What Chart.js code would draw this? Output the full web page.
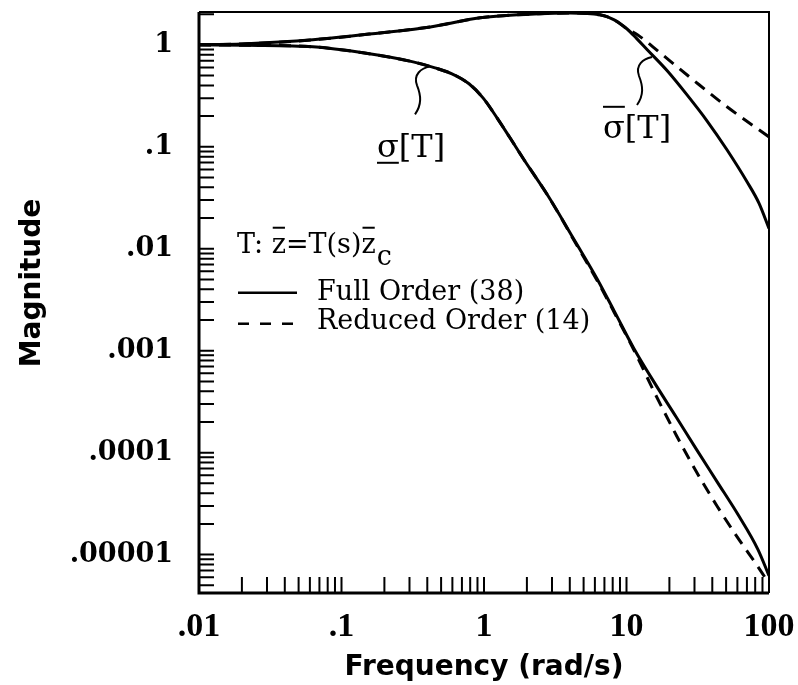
<!DOCTYPE html>
<html>
<head>
<meta charset="utf-8">
<script src="https://cdn.jsdelivr.net/npm/chart.js@4.4.1/dist/chart.umd.min.js"></script>
<style>
  html, body { margin: 0; padding: 0; background: #fff; }
  canvas { display: block; }
</style>
</head>
<body>
<canvas id="bode" width="798" height="685"></canvas>
<script>
var xTickValues = [0.01, 0.1, 1, 10, 100];
var xTickLabels = ['.01', '.1', '1', '10', '100'];
var yTickValues = [0.00001, 0.0001, 0.001, 0.01, 0.1, 1];
var yTickLabels = ['.00001', '.0001', '.001', '.01', '.1', '1'];

// largest singular value, full order
var fullMaxFreq = [0.01, 0.02, 0.063, 0.186, 0.42, 0.94, 2.47, 4.0, 6.5, 8.2, 10.1, 11.8, 13.93, 19.24, 26.6, 36.7, 50.7, 70.1, 85, 100];
var fullMaxMag  = [1.0, 1.02, 1.12, 1.31, 1.5, 1.84, 2.02, 2.05, 1.97, 1.76, 1.43, 1.15, 0.9, 0.56, 0.323, 0.18, 0.0935, 0.0454, 0.028, 0.0158];

// largest singular value, reduced order
var redMaxFreq = [0.01, 0.02, 0.063, 0.186, 0.42, 0.94, 2.47, 4.0, 6.5, 8.2, 10.1, 12, 17.2, 29.3, 50.7, 100];
var redMaxMag  = [1.0, 1.02, 1.12, 1.31, 1.5, 1.84, 2.02, 2.05, 1.97, 1.76, 1.43, 1.25, 0.835, 0.454, 0.247, 0.125];

// smallest singular value, full order
var fullMinFreq = [0.01, 0.0217, 0.063, 0.1416, 0.318, 0.453, 0.596, 0.785, 0.984, 1.234, 1.522, 1.909, 2.812, 4.42, 6.21, 8.17, 11.29, 15.85, 22.26, 30.73, 43.16, 60.6, 83.7, 100];
var fullMinMag  = [1.0, 0.99, 0.956, 0.835, 0.681, 0.595, 0.52, 0.415, 0.302, 0.1924, 0.1225, 0.0746, 0.0331, 0.01145, 0.00508, 0.00247, 0.001046, 0.000475, 0.000225, 0.0001094, 0.000052, 0.0000247, 0.0000112, 0.0000062];

// smallest singular value, reduced order
var redMinFreq = [0.01, 0.0217, 0.063, 0.1416, 0.318, 0.453, 0.596, 0.785, 0.984, 1.234, 1.522, 1.909, 2.812, 4.42, 6.21, 8.17, 11.29, 15.85, 22.26, 30.73, 43.16, 60.6, 83.7, 100];
var redMinMag  = [1.0, 0.99, 0.956, 0.835, 0.681, 0.595, 0.52, 0.415, 0.302, 0.1924, 0.1225, 0.0746, 0.0331, 0.0112, 0.0049, 0.0024, 0.00101, 0.00038, 0.00015, 0.000066, 0.00003, 0.0000145, 0.0000076, 0.0000052];

var seriesNames = ['Full Order (38)', 'Reduced Order (14)'];

function zip(fs, ms) {
  var pts = [];
  for (var i = 0; i < fs.length; i++) pts.push({x: fs[i], y: ms[i]});
  return pts;
}

function curve(label, fs, ms, dashed) {
  return {
    label: label,
    data: zip(fs, ms),
    showLine: true,
    borderColor: '#000',
    borderWidth: 3,
    borderDash: dashed ? [12, 8] : [],
    pointRadius: 0,
    fill: false,
    cubicInterpolationMode: 'monotone'
  };
}

// inward ticks and the box
var frameTicks = {
  id: 'frameTicks',
  afterDatasetsDraw: function (chart) {
    var ctx = chart.ctx, a = chart.chartArea;
    var xs = chart.scales.x, ys = chart.scales.y;
    var e, k, v, p;
    ctx.save();
    ctx.strokeStyle = '#000';
    ctx.lineWidth = 2;
    ctx.beginPath();
    for (e = -2; e <= 1; e++) {
      for (k = 1; k < 10; k++) {
        v = k * Math.pow(10, e);
        if (v < xs.min || v > xs.max) continue;
        p = xs.getPixelForValue(v);
        ctx.moveTo(p, a.bottom);
        ctx.lineTo(p, a.bottom - 16);
      }
    }
    for (e = -6; e <= 0; e++) {
      for (k = 1; k < 10; k++) {
        v = k * Math.pow(10, e);
        if (v < ys.min || v > ys.max) continue;
        p = ys.getPixelForValue(v);
        ctx.moveTo(a.left, p);
        ctx.lineTo(a.left + 15, p);
      }
    }
    ctx.stroke();

    ctx.lineWidth = 2;
    ctx.beginPath();
    ctx.moveTo(a.left, a.top);
    ctx.lineTo(a.right, a.top);
    ctx.lineTo(a.right, a.bottom);
    ctx.stroke();
    ctx.lineWidth = 3;
    ctx.beginPath();
    ctx.moveTo(a.left, a.top);
    ctx.lineTo(a.left, a.bottom);
    ctx.lineTo(a.right, a.bottom);
    ctx.stroke();
    ctx.restore();
  }
};

// sigma labels, legend block, y title
var notes = {
  id: 'notes',
  afterDraw: function (chart) {
    var ctx = chart.ctx, xs = chart.scales.x, ys = chart.scales.y;
    ctx.save();
    ctx.fillStyle = '#000';
    ctx.strokeStyle = '#000';

    ctx.save();
    ctx.translate(33, 283);
    ctx.rotate(-Math.PI / 2);
    ctx.font = 'bold 28px "DejaVu Sans"';
    ctx.textAlign = 'center';
    ctx.textBaseline = 'middle';
    ctx.fillText('Magnitude', 0, 0);
    ctx.restore();

    ctx.textAlign = 'left';
    ctx.textBaseline = 'alphabetic';

    function sigma(f, m, under) {
      var x = xs.getPixelForValue(f), y = ys.getPixelForValue(m);
      ctx.font = '32px "DejaVu Serif"';
      ctx.fillText('σ[T]', x, y);
      var w = ctx.measureText('σ').width;
      var by = under ? y + 6 : y - 31;
      ctx.lineWidth = 2;
      ctx.beginPath();
      ctx.moveTo(x, by);
      ctx.lineTo(x + w, by);
      ctx.stroke();
    }

    function leader(f, m) {
      var x = xs.getPixelForValue(f), y = ys.getPixelForValue(m);
      ctx.lineWidth = 2;
      ctx.beginPath();
      ctx.moveTo(x, y);
      ctx.bezierCurveTo(x - 9, y + 2, x - 17, y + 8, x - 13, y + 19);
      ctx.bezierCurveTo(x - 9, y + 29, x - 8, y + 38, x - 15, y + 48);
      ctx.stroke();
    }

    leader(0.418, 0.615);
    sigma(0.1774, 0.0798, true);
    leader(15.1, 0.76);
    sigma(6.84, 0.1225, false);

    // legend
    var lx = xs.getPixelForValue(0.01848), ly = ys.getPixelForValue(0.00914);
    var x = lx;
    ctx.font = '27px "DejaVu Serif"';
    function put(s) { ctx.fillText(s, x, ly); x += ctx.measureText(s).width; }
    function putBar(s) {
      var w = ctx.measureText(s).width;
      ctx.fillText(s, x, ly);
      ctx.lineWidth = 2;
      ctx.beginPath();
      ctx.moveTo(x + 1, ly - 25);
      ctx.lineTo(x + w - 1, ly - 25);
      ctx.stroke();
      x += w;
    }
    put('T: ');
    putBar('z');
    put('=T(s)');
    putBar('z');
    ctx.fillText('c', x + 1, ly + 12);

    var names = [chart.data.datasets[0].label, chart.data.datasets[2].label];
    ctx.lineWidth = 2.5;
    ctx.beginPath();
    ctx.moveTo(lx + 1, ly + 40);
    ctx.lineTo(lx + 60, ly + 40);
    ctx.stroke();
    ctx.setLineDash([11, 11]);
    ctx.beginPath();
    ctx.moveTo(lx + 1, ly + 71);
    ctx.lineTo(lx + 66, ly + 71);
    ctx.stroke();
    ctx.setLineDash([]);
    ctx.fillText(names[0], lx + 80, ly + 47);
    ctx.fillText(names[1], lx + 80, ly + 76);
    ctx.restore();
  }
};

function noPad(scale) {
  scale.paddingLeft = 0;
  scale.paddingRight = 0;
  scale.paddingTop = 0;
  scale.paddingBottom = 0;
}

var ctx = document.getElementById('bode');

new Chart(ctx, {
  type: 'scatter',
  data: {
    datasets: [
      curve(seriesNames[0], fullMaxFreq, fullMaxMag, false),
      curve(seriesNames[0], fullMinFreq, fullMinMag, false),
      curve(seriesNames[1], redMaxFreq, redMaxMag, true),
      curve(seriesNames[1], redMinFreq, redMinMag, true)
    ]
  },
  options: {
    responsive: false,
    animation: false,
    layout: { padding: { left: 0, right: 29, top: 12, bottom: 0 } },
    plugins: {
      legend: { display: false },
      tooltip: { enabled: false }
    },
    scales: {
      x: {
        type: 'logarithmic',
        min: 0.01,
        max: 100,
        grid: { display: false, drawTicks: false },
        border: { display: false },
        afterBuildTicks: function (scale) {
          scale.ticks = xTickValues.map(function (v) { return {value: v}; });
        },
        afterFit: function (scale) { scale.height = 92; noPad(scale); },
        ticks: {
          autoSkip: false,
          maxRotation: 0,
          padding: 14,
          color: '#000',
          font: { family: '"Liberation Serif"', weight: 'bold', size: 34 },
          callback: function (value, i) { return xTickLabels[i]; }
        },
        title: {
          display: true,
          text: 'Frequency (rad/s)',
          color: '#000',
          font: { family: '"DejaVu Sans"', weight: 'bold', size: 28 },
          padding: { top: 0, bottom: 0 }
        }
      },
      y: {
        type: 'logarithmic',
        min: 0.0000042,
        max: 2.1,
        grid: { display: false, drawTicks: false },
        border: { display: false },
        afterBuildTicks: function (scale) {
          scale.ticks = yTickValues.map(function (v) { return {value: v}; });
        },
        afterFit: function (scale) { scale.width = 199; noPad(scale); },
        ticks: {
          autoSkip: false,
          padding: 26,
          color: '#000',
          font: { family: '"DejaVu Serif"', weight: 'bold', size: 27 },
          callback: function (value, i) { return yTickLabels[i]; }
        }
      }
    }
  },
  plugins: [frameTicks, notes]
});
</script>
</body>
</html>
